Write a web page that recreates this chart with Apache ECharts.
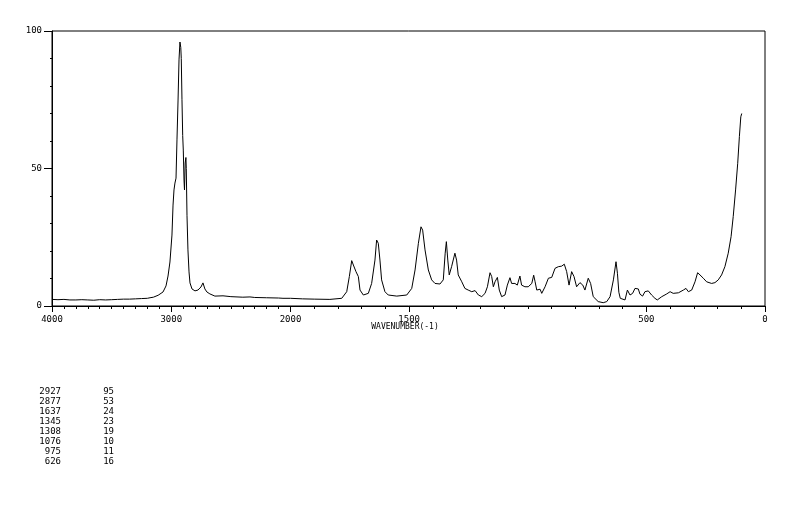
<!DOCTYPE html>
<html><head><meta charset="utf-8">
<script src="https://cdn.jsdelivr.net/npm/echarts@6/dist/echarts.min.js"></script>
<style>html,body{margin:0;padding:0;background:#fff}#c{width:794px;height:510px}</style>
</head><body><div id="c"></div>
<script>
// Raman spectrum: wavenumber (cm-1) and relative intensity
const wavenumbers = [4000,3950,3900,3850,3800,3750,3700,3650,3600,3550,3500,3450,3400,3350,3300,3250,3200,3178,3150,3136,3110,3094,3069,3044,3027,3011,2994,2985,2977,2969,2960,2952,2943,2935,2927,2920,2916,2910,2904,2899,2893,2889,2883,2877,2874,2868,2860,2851,2843,2826,2801,2776,2751,2734,2718,2701,2676,2634,2566,2500,2400,2340,2300,2200,2100,2063,2000,
1950,1900,1834,1784,1763,1752,1742,1735,1724,1714,1707,1693,1672,1658,1644,1637,1630,1623,1616,1602,1588,1552,1510,1489,1475,1461,1450,1443,1433,1419,1405,1391,1370,1356,1348,1343,1337,1331,1321,1307,1300,1293,1278,1265,1251,1236,1229,1222,1208,1194,1180,1170,1159,1152,1145,1138,1128,1120,1110,1096,1086,1075,1068,1054,1044,1033,1026,1012,998,983,975,969,962,948,941,927,913,899,885,871,857,846,836,826,815,805,794,780,768,759,745,735,724,703,682,667,653,639,628,622,616,610,604,590,580,576,569,558,548,541,534,527,516,506,492,478,464,454,435,414,400,387,365,344,333,323,309,295,284,274,260,246,225,211,197,183,169,155,143,134,124,115,108,102,98];
const intensities = [2.4,2.3,2.4,2.2,2.2,2.3,2.2,2.1,2.3,2.2,2.3,2.4,2.5,2.5,2.6,2.7,2.8,3.0,3.2,3.5,3.9,4.4,5.1,7.3,10.9,16,25.8,36.7,42.2,44.7,46.5,60.4,74.9,89.5,96,94,90,75,62,56.7,45.8,42.2,52,54,50,33,20.4,12.4,8.4,6.2,5.5,5.8,6.9,8.4,6.2,5.1,4.4,3.6,3.7,3.4,3.2,3.3,3.1,3.0,2.9,2.8,2.8,
2.6,2.5,2.4,2.8,5.2,10.7,16.5,14.9,12.5,10.7,5.8,4.0,4.6,8.2,16.7,24,22.8,16.7,9.5,5.2,4.0,3.6,4.0,6.4,13.1,22.8,28.8,27.6,20.4,13.1,9.5,8.2,8.0,9.5,19.2,23.4,16.7,11.3,14.3,19.2,16.7,11.3,8.8,6.4,5.8,5.2,5.2,5.6,4.0,3.4,4.6,7.0,12.1,10.7,7.0,8.8,10.4,5.8,3.4,4.0,7.6,10.3,8.2,8.2,7.6,10.9,7.6,7.0,7.0,8.2,11.2,8.8,5.8,6.1,4.6,7.0,10.1,10.4,13.7,14.3,14.5,15.2,12.5,7.6,12.5,10.7,7.0,8.5,7.6,5.8,10.1,8.2,3.4,1.6,1.2,1.6,3.4,9.5,16.1,11.9,5.0,2.8,2.4,2.2,5.8,5.2,4.0,4.6,6.4,5.8,6.2,4.3,3.6,5.2,5.5,4.0,2.8,2.2,3.4,4.4,5.2,4.6,4.8,5.8,6.4,5.2,5.8,8.8,12.1,11.3,10.1,8.8,8.2,8.5,9.5,11.3,14.3,19.2,25.2,32.5,42.2,51.9,61.6,68.8,70];

const xLabelsHigh = [2000, 3000, 4000];
const xLabelsLow = [0, 500, 1500];
const yLabels = [0, 50, 100];
const peakWavenumbers = [2927, 2877, 1637, 1345, 1308, 1076, 975, 626];
const peakIntensities = [95, 53, 24, 23, 19, 10, 11, 16];

const highData = [], lowData = [];
wavenumbers.forEach((w, i) => {
  if (w >= 2000) highData.push([w, intensities[i]]);
  if (w <= 2000) lowData.push([w, intensities[i]]);
});

const FONT = 'DejaVu Sans Mono';
const lbl = {color: '#000', fontFamily: FONT, fontSize: 9, formatter: v => String(v)};
const line = {show: true, lineStyle: {color: '#000', width: 1}};

const L = 52, T = 31, H = 275, XB = 290.5, R = 765;

const graphic = [{
  type: 'text', x: 405, y: 327,
  style: {text: 'WAVENUMBER(-1)', fill: '#000', font: '8px ' + FONT, textAlign: 'center', textVerticalAlign: 'middle', align: 'center', verticalAlign: 'middle'}
}];
peakWavenumbers.forEach((w, i) => {
  const y = 392 + i * 10;
  graphic.push({type: 'text', x: 61, y: y, style: {text: String(w), fill: '#000', font: '9px ' + FONT, textAlign: 'right', textVerticalAlign: 'middle', align: 'right', verticalAlign: 'middle'}});
  graphic.push({type: 'text', x: 114, y: y, style: {text: String(peakIntensities[i]), fill: '#000', font: '9px ' + FONT, textAlign: 'right', textVerticalAlign: 'middle', align: 'right', verticalAlign: 'middle'}});
});

const chart = echarts.init(document.getElementById('c'), null, {renderer: 'canvas'});
chart.setOption({
  backgroundColor: '#fff',
  animation: false,
  grid: [
    {left: L, top: T, width: XB - L, height: H},
    {left: XB, top: T, width: R - XB, height: H},
    {left: L, top: T, width: R - L, height: H, show: true, borderColor: '#000', borderWidth: 1, backgroundColor: 'transparent'}
  ],
  xAxis: [
    {gridIndex: 0, type: 'value', position: 'bottom', min: 2000, max: 4000, interval: 100, inverse: true,
     axisLine: line, axisTick: {show: true, length: 3, lineStyle: {color: '#000'}}, axisLabel: {show: false}, splitLine: {show: false}},
    {gridIndex: 0, type: 'value', position: 'bottom', min: 2000, max: 4000, inverse: true,
     axisLine: {show: false}, axisTick: {show: true, length: 6, customValues: xLabelsHigh, lineStyle: {color: '#000'}},
     axisLabel: Object.assign({show: true, margin: 9, customValues: xLabelsHigh}, lbl), splitLine: {show: false}},
    {gridIndex: 1, type: 'value', position: 'bottom', min: 0, max: 2000, interval: 100, inverse: true,
     axisLine: line, axisTick: {show: true, length: 3, lineStyle: {color: '#000'}}, axisLabel: {show: false}, splitLine: {show: false}},
    {gridIndex: 1, type: 'value', position: 'bottom', min: 0, max: 2000, inverse: true,
     axisLine: {show: false}, axisTick: {show: true, length: 6, customValues: xLabelsLow, lineStyle: {color: '#000'}},
     axisLabel: Object.assign({show: true, margin: 9, customValues: xLabelsLow}, lbl), splitLine: {show: false}},
    {gridIndex: 2, type: 'value', show: false, min: 0, max: 1}
  ],
  yAxis: [
    {gridIndex: 0, type: 'value', position: 'left', min: 0, max: 100, interval: 10,
     axisLine: line, axisTick: {show: true, length: 2, lineStyle: {color: '#000'}}, axisLabel: {show: false}, splitLine: {show: false}},
    {gridIndex: 0, type: 'value', position: 'left', min: 0, max: 100,
     axisLine: {show: false}, axisTick: {show: true, length: 8, customValues: yLabels, lineStyle: {color: '#000'}},
     axisLabel: Object.assign({show: true, margin: 10, customValues: yLabels}, lbl), splitLine: {show: false}},
    {gridIndex: 1, type: 'value', show: false, min: 0, max: 100, splitLine: {show: false}},
    {gridIndex: 2, type: 'value', show: false, min: 0, max: 1, splitLine: {show: false}}
  ],
  series: [
    {type: 'line', xAxisIndex: 0, yAxisIndex: 0, data: highData, showSymbol: false, symbol: 'none',
     lineStyle: {color: '#000', width: 1}, silent: true},
    {type: 'line', xAxisIndex: 2, yAxisIndex: 2, data: lowData, showSymbol: false, symbol: 'none',
     lineStyle: {color: '#000', width: 1}, silent: true}
  ],
  graphic: graphic
});
</script>
</body></html>
